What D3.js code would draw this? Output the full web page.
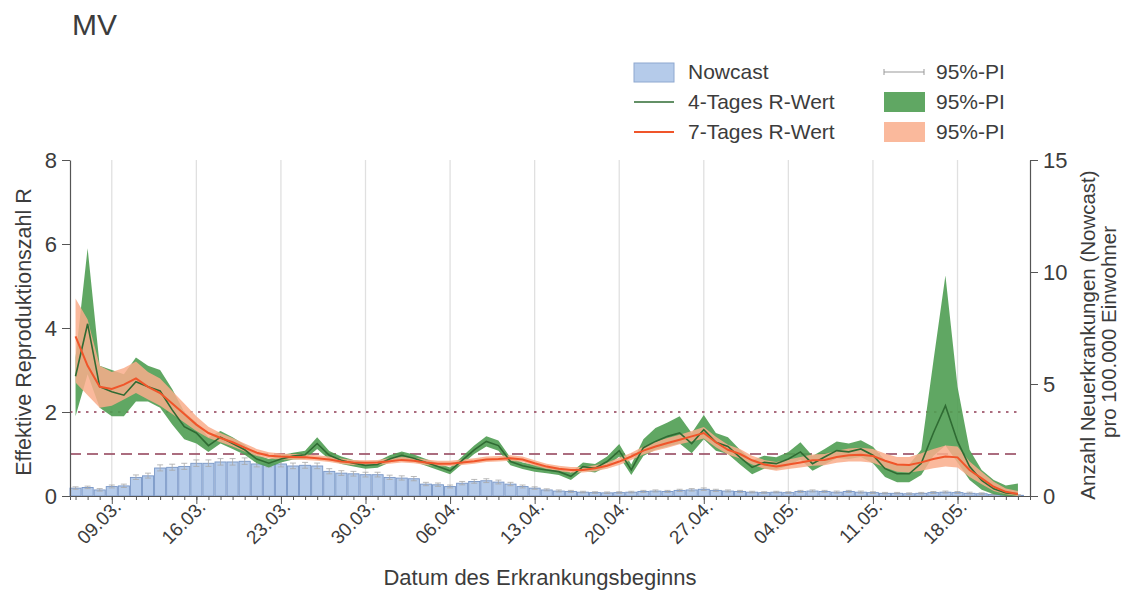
<!DOCTYPE html>
<html>
<head>
<meta charset="utf-8">
<script src="https://cdn.jsdelivr.net/npm/d3@7"></script>
<style>
  html, body { margin: 0; padding: 0; background: #fff; }
  svg { display: block; font-family: "Liberation Sans", Arial, sans-serif; }
</style>
</head>
<body>
<svg id="chart" width="1125" height="592"></svg>
<script>
// first day of the series, one value per day afterwards
const startDay = "2020-03-06";
const weekTicks = ["2020-03-09", "2020-03-16", "2020-03-23", "2020-03-30", "2020-04-06", "2020-04-13",
  "2020-04-20", "2020-04-27", "2020-05-04", "2020-05-11", "2020-05-18"];

// Nowcast, Neuerkrankungen pro 100.000 Einwohner
const nowcast = [0.35, 0.38, 0.27, 0.42, 0.45, 0.83, 0.9, 1.25, 1.28, 1.32, 1.46, 1.46, 1.52, 1.52, 1.55, 1.43,
  1.43, 1.43, 1.34, 1.37, 1.34, 1.1, 1.02, 0.99, 0.95, 0.95, 0.83, 0.8, 0.77, 0.53, 0.5, 0.42, 0.57, 0.65, 0.68,
  0.62, 0.53, 0.42, 0.35, 0.27, 0.22, 0.2, 0.17, 0.15, 0.14, 0.15, 0.17, 0.2, 0.22, 0.2, 0.25, 0.27, 0.3, 0.25,
  0.22, 0.2, 0.17, 0.15, 0.17, 0.15, 0.2, 0.22, 0.2, 0.17, 0.2, 0.17, 0.15, 0.12, 0.12, 0.1, 0.12, 0.15, 0.17,
  0.15, 0.12, 0.1, 0.07, 0.05, 0.03];
const nowcastLo = [0.3, 0.33, 0.22, 0.36, 0.38, 0.74, 0.8, 1.12, 1.15, 1.19, 1.32, 1.32, 1.38, 1.38, 1.41, 1.3,
  1.3, 1.3, 1.22, 1.24, 1.22, 0.99, 0.92, 0.89, 0.85, 0.85, 0.74, 0.71, 0.68, 0.46, 0.43, 0.36, 0.5, 0.57, 0.6,
  0.54, 0.46, 0.36, 0.3, 0.23, 0.18, 0.16, 0.14, 0.12, 0.11, 0.12, 0.14, 0.16, 0.18, 0.16, 0.2, 0.22, 0.25, 0.2,
  0.18, 0.16, 0.14, 0.12, 0.14, 0.12, 0.16, 0.18, 0.16, 0.13, 0.16, 0.13, 0.11, 0.09, 0.09, 0.07, 0.09, 0.11, 0.13,
  0.11, 0.09, 0.07, 0.05, 0.03, 0.02];
const nowcastHi = [0.41, 0.44, 0.33, 0.49, 0.53, 0.94, 1.02, 1.39, 1.42, 1.46, 1.61, 1.61, 1.67, 1.67, 1.7, 1.57,
  1.57, 1.57, 1.47, 1.5, 1.47, 1.22, 1.13, 1.1, 1.06, 1.06, 0.93, 0.9, 0.87, 0.61, 0.58, 0.49, 0.65, 0.74, 0.77,
  0.71, 0.61, 0.49, 0.41, 0.32, 0.27, 0.25, 0.21, 0.19, 0.18, 0.19, 0.21, 0.25, 0.27, 0.25, 0.3, 0.33, 0.36, 0.3,
  0.27, 0.25, 0.21, 0.19, 0.21, 0.19, 0.25, 0.27, 0.25, 0.22, 0.25, 0.22, 0.19, 0.16, 0.16, 0.14, 0.16, 0.2, 0.22,
  0.2, 0.17, 0.14, 0.1, 0.08, 0.06];

// 4-Tages R-Wert with 95%-PI
const r4 = [2.85, 4.1, 2.6, 2.48, 2.4, 2.72, 2.6, 2.5, 2.05, 1.65, 1.5, 1.2, 1.4, 1.25, 1.1, 0.88, 0.78, 0.88,
  0.95, 0.98, 1.25, 0.97, 0.85, 0.78, 0.73, 0.75, 0.88, 0.97, 0.9, 0.8, 0.7, 0.6, 0.85, 1.1, 1.3, 1.2, 0.82, 0.72,
  0.66, 0.62, 0.58, 0.47, 0.7, 0.66, 0.82, 1.08, 0.62, 1.15, 1.3, 1.42, 1.5, 1.25, 1.58, 1.28, 1.18, 0.92, 0.68,
  0.8, 0.77, 0.88, 1.05, 0.77, 0.93, 1.08, 1.05, 1.12, 0.97, 0.65, 0.53, 0.53, 0.78, 1.5, 2.15, 1.3, 0.7, 0.37,
  0.17, 0.07, 0.05];
const r4Lo = [1.9, 2.9, 2.1, 1.9, 1.9, 2.25, 2.25, 2.1, 1.7, 1.35, 1.25, 1.05, 1.25, 1.12, 0.98, 0.78, 0.68, 0.8,
  0.87, 0.88, 1.12, 0.87, 0.76, 0.7, 0.65, 0.67, 0.8, 0.88, 0.82, 0.72, 0.62, 0.52, 0.76, 1.0, 1.18, 1.08, 0.73,
  0.64, 0.58, 0.54, 0.5, 0.38, 0.6, 0.56, 0.7, 0.94, 0.5, 0.95, 1.1, 1.18, 1.25, 1.02, 1.35, 1.08, 1.0, 0.75, 0.52,
  0.65, 0.63, 0.72, 0.87, 0.6, 0.75, 0.9, 0.88, 0.93, 0.78, 0.45, 0.33, 0.33, 0.5, 0.95, 1.2, 0.8, 0.38, 0.15,
  0.04, 0.0, 0.0];
const r4Hi = [3.3, 5.9, 3.1, 3.0, 2.9, 3.3, 3.1, 3.0, 2.55, 2.0, 1.75, 1.4, 1.55, 1.4, 1.22, 0.98, 0.88, 0.97,
  1.03, 1.08, 1.4, 1.07, 0.94, 0.86, 0.81, 0.83, 0.97, 1.06, 0.99, 0.88, 0.78, 0.68, 0.94, 1.2, 1.42, 1.32, 0.91,
  0.8, 0.74, 0.7, 0.66, 0.56, 0.8, 0.76, 0.94, 1.24, 0.75, 1.35, 1.62, 1.75, 1.9, 1.5, 1.93, 1.5, 1.4, 1.1, 0.85,
  0.96, 0.92, 1.05, 1.28, 0.95, 1.12, 1.3, 1.25, 1.33, 1.17, 0.85, 0.75, 0.75, 1.1, 3.2, 5.25, 2.6, 1.1, 0.62,
  0.38, 0.25, 0.3];

// 7-Tages R-Wert with 95%-PI
const r7 = [3.8, 3.1, 2.6, 2.55, 2.65, 2.8, 2.6, 2.45, 2.2, 1.95, 1.7, 1.5, 1.38, 1.28, 1.15, 1.03, 0.96, 0.94,
  0.93, 0.92, 0.9, 0.87, 0.82, 0.8, 0.79, 0.8, 0.83, 0.86, 0.84, 0.8, 0.77, 0.77, 0.8, 0.83, 0.87, 0.88, 0.9, 0.87,
  0.78, 0.7, 0.65, 0.62, 0.62, 0.66, 0.72, 0.82, 0.94, 1.08, 1.18, 1.26, 1.34, 1.42, 1.5, 1.28, 1.1, 1.0, 0.85,
  0.75, 0.7, 0.75, 0.8, 0.85, 0.86, 0.93, 0.97, 0.98, 0.95, 0.84, 0.75, 0.74, 0.8, 0.88, 0.94, 0.92, 0.62, 0.42,
  0.22, 0.1, 0.05];
const r7Lo = [2.7, 2.4, 2.1, 2.15, 2.3, 2.45, 2.3, 2.15, 1.95, 1.75, 1.55, 1.38, 1.28, 1.18, 1.06, 0.95, 0.89,
  0.87, 0.87, 0.86, 0.84, 0.81, 0.76, 0.74, 0.73, 0.74, 0.77, 0.8, 0.78, 0.74, 0.71, 0.71, 0.74, 0.77, 0.81, 0.82,
  0.84, 0.81, 0.72, 0.64, 0.59, 0.56, 0.56, 0.59, 0.65, 0.74, 0.86, 0.99, 1.08, 1.15, 1.23, 1.3, 1.37, 1.16, 0.99,
  0.89, 0.75, 0.65, 0.6, 0.64, 0.68, 0.72, 0.73, 0.79, 0.82, 0.82, 0.79, 0.68, 0.58, 0.56, 0.6, 0.66, 0.7, 0.68,
  0.45, 0.28, 0.12, 0.04, 0.0];
const r7Hi = [4.7, 4.2, 3.1, 2.95, 3.05, 3.2, 2.95, 2.8, 2.5, 2.2, 1.9, 1.65, 1.5, 1.38, 1.25, 1.12, 1.04, 1.01,
  1.0, 0.99, 0.97, 0.94, 0.89, 0.86, 0.85, 0.86, 0.9, 0.93, 0.91, 0.87, 0.84, 0.84, 0.87, 0.9, 0.94, 0.95, 0.97,
  0.94, 0.85, 0.77, 0.72, 0.69, 0.69, 0.73, 0.8, 0.91, 1.03, 1.18, 1.29, 1.38, 1.46, 1.55, 1.64, 1.41, 1.22, 1.12,
  0.96, 0.86, 0.81, 0.87, 0.93, 0.99, 1.0, 1.08, 1.13, 1.15, 1.12, 1.01, 0.93, 0.93, 1.02, 1.12, 1.2, 1.18, 0.82,
  0.58, 0.34, 0.18, 0.12];

const rTicks = [0, 2, 4, 6, 8];
const nTicks = [0, 5, 10, 15];
const refLines = [{ value: 2, dash: "2.5,5.5" }, { value: 1, dash: "11,6" }];

const svg = d3.select("#chart");
const plotL = 70, plotR = 1030, plotT = 160, plotB = 496;

const t0 = d3.timeParse("%Y-%m-%d")(startDay);
const days = nowcast.map((_, i) => d3.timeDay.offset(t0, i));
const ticks = weekTicks.map(d3.timeParse("%Y-%m-%d"));

const x = d3.scaleTime()
  .domain([d3.timeHour.offset(t0, -11), d3.timeDay.offset(t0, 79)])
  .range([plotL, plotR]);
const yR = d3.scaleLinear().domain([0, 8]).range([plotB, plotT]);
const yN = d3.scaleLinear().domain([0, 15]).range([plotB, plotT]);
const dayW = x(d3.timeDay.offset(t0, 1)) - x(t0);

// weekly grid
svg.append("g").selectAll("line").data(ticks).join("line")
  .attr("x1", (d) => x(d)).attr("x2", (d) => x(d))
  .attr("y1", plotT).attr("y2", plotB)
  .attr("stroke", "#e0e0e0").attr("stroke-width", 1.3);

// nowcast bars
svg.append("g").selectAll("rect").data(nowcast).join("rect")
  .attr("x", (d, i) => x(days[i]) - dayW / 2 + 0.5)
  .attr("width", dayW - 1)
  .attr("y", (d) => yN(d))
  .attr("height", (d) => plotB - yN(d))
  .attr("fill", "#b5cbea")
  .attr("stroke", "#7896c6")
  .attr("stroke-width", 0.9);

const eb = svg.append("g").attr("stroke", "#a8a8a8").attr("stroke-width", 0.8);
nowcast.forEach((d, i) => {
  const cx = x(days[i]);
  eb.append("line").attr("x1", cx).attr("x2", cx).attr("y1", yN(nowcastLo[i])).attr("y2", yN(nowcastHi[i]));
  eb.append("line").attr("x1", cx - 3).attr("x2", cx + 3).attr("y1", yN(nowcastHi[i])).attr("y2", yN(nowcastHi[i]));
  eb.append("line").attr("x1", cx - 3).attr("x2", cx + 3).attr("y1", yN(nowcastLo[i])).attr("y2", yN(nowcastLo[i]));
});

// reference lines at R = 1 and R = 2
refLines.forEach((r) => {
  svg.append("line")
    .attr("x1", plotL).attr("x2", plotR - 12)
    .attr("y1", yR(r.value)).attr("y2", yR(r.value))
    .attr("stroke", "#9c5468").attr("stroke-opacity", 0.85)
    .attr("stroke-width", 2).attr("stroke-dasharray", r.dash);
});

const area = (lo, hi) => d3.area()
  .x((d, i) => x(days[i]))
  .y0((d, i) => yR(lo[i]))
  .y1((d, i) => yR(hi[i]));
const line = d3.line().x((d, i) => x(days[i])).y((d) => yR(d));

svg.append("path").datum(r4).attr("d", area(r4Lo, r4Hi))
  .attr("fill", "#4f9d52").attr("fill-opacity", 0.9);
svg.append("path").datum(r7).attr("d", area(r7Lo, r7Hi))
  .attr("fill", "#f9ad8b").attr("fill-opacity", 0.85);
svg.append("path").datum(r4).attr("d", line)
  .attr("fill", "none").attr("stroke", "#2f6b33").attr("stroke-width", 1.6);
svg.append("path").datum(r7).attr("d", line)
  .attr("fill", "none").attr("stroke", "#f0552a").attr("stroke-width", 2);

// axes
const axisColor = "#555";
const textColor = "#3c3c3c";

const gx = svg.append("g").attr("transform", `translate(0,${plotB})`)
  .call(d3.axisBottom(x).tickValues(days).tickSize(4).tickFormat(""));
svg.append("g").attr("transform", `translate(0,${plotB})`)
  .call(d3.axisBottom(x).tickValues(ticks).tickSize(8).tickFormat(d3.timeFormat("%d.%m.")))
  .call((g) => g.select(".domain").remove())
  .selectAll("text")
  .attr("font-size", 19).attr("fill", textColor)
  .attr("text-anchor", "end")
  .attr("x", 0).attr("y", 0).attr("dy", 0)
  .attr("transform", "translate(10,12) rotate(-45)");
gx.select(".domain").attr("stroke", axisColor);
svg.selectAll(".tick line").attr("stroke", axisColor);

const gl = svg.append("g").attr("transform", `translate(${plotL},0)`)
  .call(d3.axisLeft(yR).tickValues(rTicks).tickSize(8).tickPadding(5).tickSizeOuter(0));
const gr = svg.append("g").attr("transform", `translate(${plotR},0)`)
  .call(d3.axisRight(yN).tickValues(nTicks).tickSize(8).tickPadding(5).tickSizeOuter(0));
[gl, gr].forEach((g) => {
  g.select(".domain").attr("stroke", axisColor).attr("stroke-width", 1.2);
  g.selectAll(".tick line").attr("stroke", axisColor);
  g.selectAll("text").attr("font-size", 22).attr("fill", textColor);
});

// titles
svg.append("text").attr("x", 72).attr("y", 35)
  .attr("font-size", 30).attr("fill", textColor).text("MV");

svg.append("text")
  .attr("transform", `translate(31,${(plotT + plotB) / 2 + 4}) rotate(-90)`)
  .attr("text-anchor", "middle").attr("font-size", 21.5).attr("fill", textColor)
  .text("Effektive Reproduktionszahl R");

svg.append("text")
  .attr("transform", `translate(1095,${(plotT + plotB) / 2 + 7}) rotate(-90)`)
  .attr("text-anchor", "middle").attr("font-size", 20.5).attr("fill", textColor)
  .text("Anzahl Neuerkrankungen (Nowcast)");
svg.append("text")
  .attr("transform", `translate(1116,${(plotT + plotB) / 2 + 4}) rotate(-90)`)
  .attr("text-anchor", "middle").attr("font-size", 20.5).attr("fill", textColor)
  .text("pro 100.000 Einwohner");

svg.append("text").attr("x", 540).attr("y", 585)
  .attr("text-anchor", "middle").attr("font-size", 22).attr("fill", textColor)
  .text("Datum des Erkrankungsbeginns");

// legend
const lg = svg.append("g").attr("font-size", 21).attr("fill", textColor);
const rows = [72, 102, 132];
lg.append("rect").attr("x", 634).attr("y", 63).attr("width", 40).attr("height", 19)
  .attr("fill", "#b5cbea").attr("stroke", "#8ea8d0");
lg.append("line").attr("x1", 634).attr("x2", 674).attr("y1", rows[1]).attr("y2", rows[1])
  .attr("stroke", "#2f6b33").attr("stroke-width", 1.6);
lg.append("line").attr("x1", 634).attr("x2", 674).attr("y1", rows[2]).attr("y2", rows[2])
  .attr("stroke", "#f0552a").attr("stroke-width", 2);
["Nowcast", "4-Tages R-Wert", "7-Tages R-Wert"].forEach((t, i) => {
  lg.append("text").attr("x", 688).attr("y", rows[i]).attr("dy", "0.35em").text(t);
});

const pi = lg.append("g").attr("stroke", "#999").attr("stroke-width", 1);
pi.append("line").attr("x1", 884).attr("x2", 924).attr("y1", rows[0]).attr("y2", rows[0]);
pi.append("line").attr("x1", 884).attr("x2", 884).attr("y1", rows[0] - 3).attr("y2", rows[0] + 3);
pi.append("line").attr("x1", 924).attr("x2", 924).attr("y1", rows[0] - 3).attr("y2", rows[0] + 3);
lg.append("rect").attr("x", 884).attr("y", 92).attr("width", 41).attr("height", 20)
  .attr("fill", "#4f9d52").attr("fill-opacity", 0.9);
lg.append("rect").attr("x", 884).attr("y", 122).attr("width", 41).attr("height", 20)
  .attr("fill", "#f9ad8b").attr("fill-opacity", 0.85);
rows.forEach((r) => {
  lg.append("text").attr("x", 936).attr("y", r).attr("dy", "0.35em").text("95%-PI");
});
</script>
</body>
</html>
